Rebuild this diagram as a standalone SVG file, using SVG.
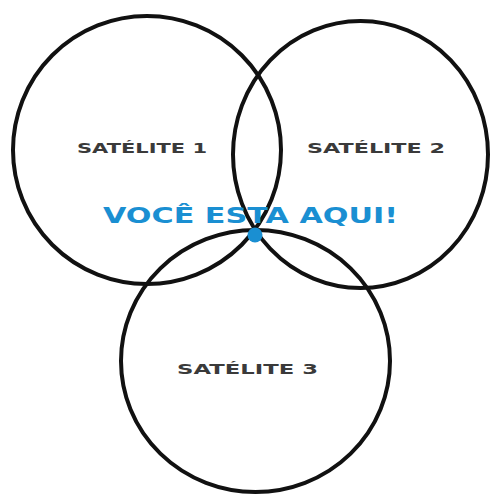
<svg xmlns="http://www.w3.org/2000/svg" width="490" height="496" viewBox="0 0 490 496">
  <style>
    .ring { fill: none; stroke: #111; stroke-width: 4; }
    .sat { font-family: "DejaVu Sans", "Liberation Sans", sans-serif; font-weight: bold; font-size: 14px; fill: #3a3a3a; }
    .here { font-family: "DejaVu Sans", "Liberation Sans", sans-serif; font-weight: bold; font-size: 21px; fill: #1a8fd2; }
  </style>
  <rect width="490" height="496" fill="#ffffff"/>
  <g id="satelite1">
    <circle class="ring" cx="147" cy="150" r="134"/>
    <text class="sat" x="77" y="152.5" textLength="130" lengthAdjust="spacingAndGlyphs">SATÉLITE 1</text>
  </g>
  <g id="satelite2">
    <ellipse class="ring" cx="360.5" cy="154.5" rx="127.5" ry="133.5"/>
    <text class="sat" x="307" y="152.5" textLength="138" lengthAdjust="spacingAndGlyphs">SATÉLITE 2</text>
  </g>
  <g id="satelite3">
    <ellipse class="ring" cx="255.5" cy="361" rx="134.5" ry="131"/>
    <text class="sat" x="177" y="373.5" textLength="141" lengthAdjust="spacingAndGlyphs">SATÉLITE 3</text>
  </g>
  <g id="voce">
    <text class="here" x="103" y="223" textLength="295" lengthAdjust="spacingAndGlyphs">VOCÊ ESTA AQUI!</text>
    <circle cx="255" cy="235" r="7.5" fill="#1a8fd2"/>
  </g>
</svg>
